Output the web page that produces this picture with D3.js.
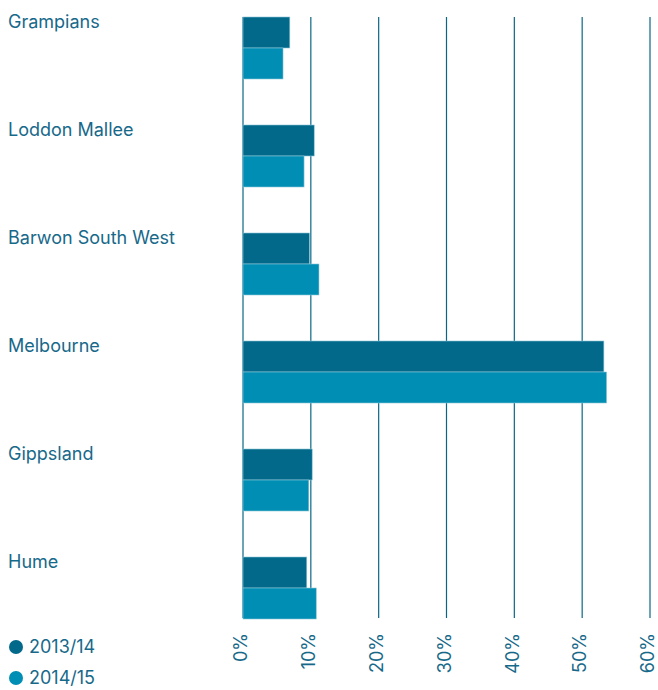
<!DOCTYPE html>
<meta charset="utf-8">
<style>
body {
  margin: 0;
  font-family: Inter, "Noto Sans", sans-serif;
  font-size: 18px;
  background: #fff;
}
.label, .tick-label, .legend text {
  fill: #17698a;
}
.grid {
  stroke: #0b6685;
  stroke-width: 1.2;
}
</style>
<body>
<script src="https://cdn.jsdelivr.net/npm/d3@7"></script>
<script>

var width = 658,
    height = 690;

var regions = ["Grampians", "Loddon Mallee", "Barwon South West", "Melbourne", "Gippsland", "Hume"];
var years = ["2013/14", "2014/15"];
var share1314 = [6.9, 10.5, 9.8, 53.2, 10.2, 9.4];
var share1415 = [5.9, 9.0, 11.2, 53.6, 9.7, 10.8];
var ticks = [0, 10, 20, 30, 40, 50, 60];
var colors = ["#02698b", "#008eb4"];

var data = regions.map(function(r, i) {
  return {region: r, values: [share1314[i], share1415[i]]};
});

var x = d3.scaleLinear()
    .domain([0, 60])
    .range([243, 650]);

var y = d3.scaleBand()
    .domain(regions)
    .range([17, 619])
    .paddingInner(0.426)
    .paddingOuter(0);

var y1 = d3.scaleBand()
    .domain(years)
    .range([0, y.bandwidth()]);

var color = d3.scaleOrdinal()
    .domain(years)
    .range(colors);

var svg = d3.select("body").append("svg")
    .attr("width", width)
    .attr("height", height);

// grid lines
svg.selectAll(".grid")
    .data(ticks)
  .enter().append("line")
    .attr("class", "grid")
    .attr("x1", function(d) { return x(d); })
    .attr("x2", function(d) { return x(d); })
    .attr("y1", 17)
    .attr("y2", 618);

var group = svg.selectAll(".region")
    .data(data)
  .enter().append("g")
    .attr("class", "region")
    .attr("transform", function(d) { return "translate(0," + y(d.region) + ")"; });

group.selectAll("rect")
    .data(function(d) { return d.values.map(function(v, i) { return {year: years[i], value: v}; }); })
  .enter().append("rect")
    .attr("x", x(0))
    .attr("y", function(d) { return y1(d.year); })
    .attr("width", function(d) { return x(d.value) - x(0); })
    .attr("height", y1.bandwidth())
    .attr("fill", function(d) { return color(d.year); })
    .attr("stroke", "#8cc6d8")
    .attr("stroke-width", 0.6);

group.append("text")
    .attr("class", "label")
    .attr("x", 8)
    .attr("y", 11)
    .text(function(d) { return d.region; });

// tick labels, rotated
svg.selectAll(".tick-label")
    .data(ticks)
  .enter().append("text")
    .attr("class", "tick-label")
    .attr("text-anchor", "end")
    .attr("dy", "0.35em")
    .attr("transform", function(d) { return "translate(" + (x(d) - 2) + ",633) rotate(-90)"; })
    .text(function(d) { return d + "%"; });

var legend = svg.selectAll(".legend")
    .data(years)
  .enter().append("g")
    .attr("class", "legend")
    .attr("transform", function(d, i) { return "translate(0," + (647 + i * 31) + ")"; });

legend.append("circle")
    .attr("cx", 16)
    .attr("cy", 0)
    .attr("r", 7)
    .attr("fill", function(d) { return color(d); });

legend.append("text")
    .attr("x", 29)
    .attr("y", 6)
    .text(function(d) { return d; });

</script>
